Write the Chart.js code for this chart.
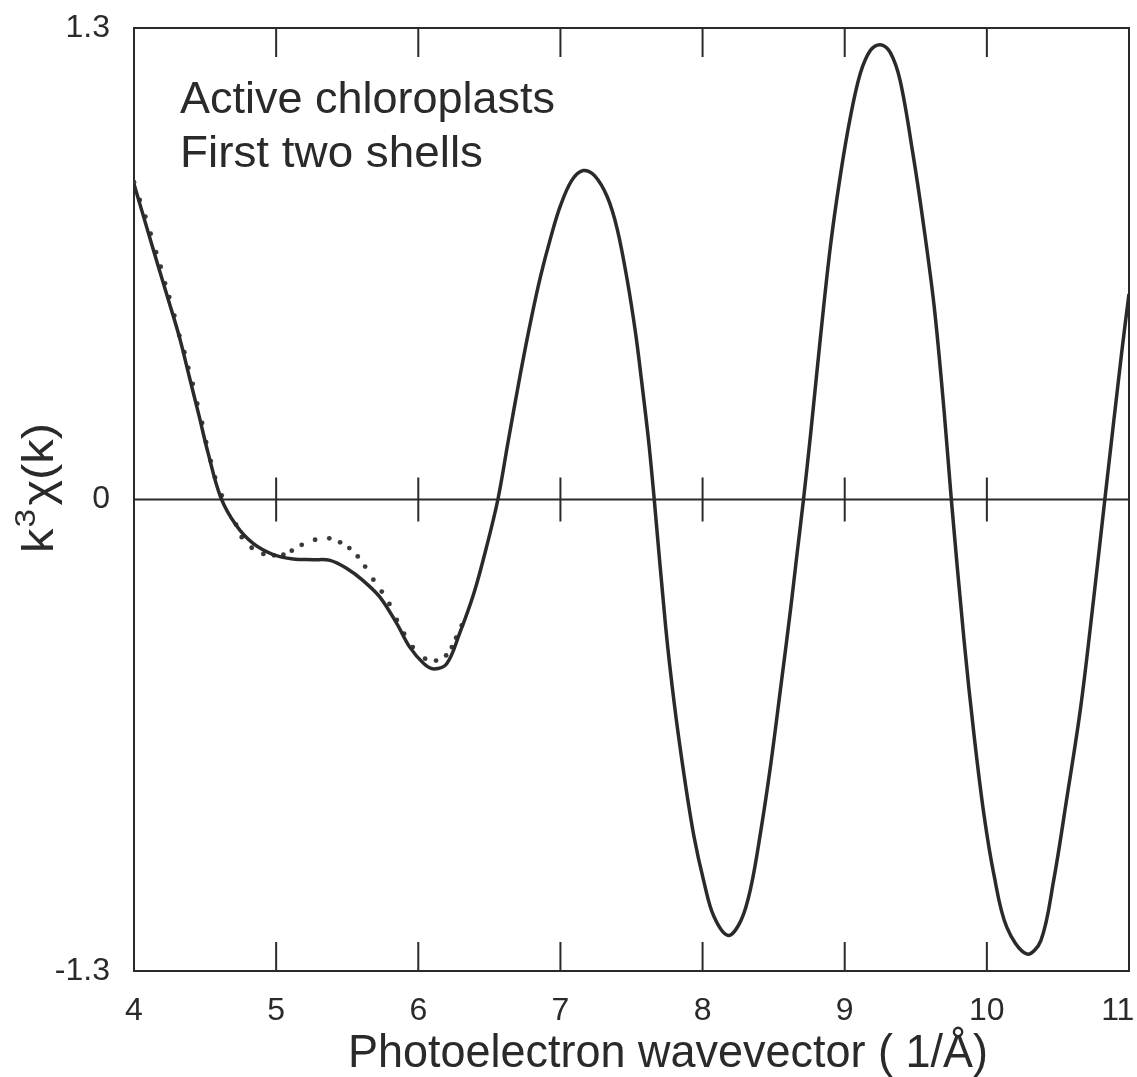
<!DOCTYPE html>
<html>
<head>
<meta charset="utf-8">
<script src="https://cdn.jsdelivr.net/npm/chart.js@4.4.1/dist/chart.umd.min.js"></script>
<style>
  html, body { margin: 0; padding: 0; background: #fff; }
  canvas { display: block; }
</style>
</head>
<body>
<canvas id="exafsChart" width="1137" height="1077"></canvas>
<script>
// k values (1/Å) and k^3 chi(k)
const fitK = [4.0, 4.11, 4.18, 4.25, 4.32, 4.39, 4.46, 4.52, 4.61, 4.72, 4.84, 4.98, 5.12, 5.26, 5.38, 5.50, 5.61, 5.73, 5.85, 5.94, 6.04, 6.11, 6.20, 6.29, 6.39, 6.48, 6.56, 6.63, 6.72, 6.79, 6.86, 6.93, 7.00, 7.08, 7.16, 7.24, 7.33, 7.40, 7.47, 7.53, 7.57, 7.62, 7.66, 7.74, 7.80, 7.87, 7.94, 8.01, 8.08, 8.18, 8.27, 8.34, 8.41, 8.48, 8.55, 8.62, 8.66, 8.71, 8.76, 8.83, 8.90, 8.97, 9.04, 9.11, 9.18, 9.25, 9.32, 9.39, 9.48, 9.55, 9.63, 9.70, 9.75, 9.84, 9.91, 9.98, 10.05, 10.14, 10.28, 10.38, 10.47, 10.56, 10.66, 10.75, 10.83, 10.95, 11.0];
const fitChi = [0.870, 0.723, 0.631, 0.540, 0.447, 0.337, 0.227, 0.130, 0.006, -0.072, -0.122, -0.152, -0.164, -0.166, -0.168, -0.191, -0.223, -0.269, -0.343, -0.407, -0.453, -0.467, -0.453, -0.370, -0.260, -0.131, 0.0, 0.155, 0.350, 0.490, 0.615, 0.720, 0.810, 0.880, 0.907, 0.893, 0.834, 0.745, 0.605, 0.455, 0.330, 0.163, 0.0, -0.350, -0.560, -0.760, -0.930, -1.055, -1.150, -1.202, -1.161, -1.069, -0.913, -0.729, -0.517, -0.300, -0.165, 0.0, 0.180, 0.450, 0.700, 0.895, 1.055, 1.175, 1.238, 1.254, 1.233, 1.155, 0.953, 0.770, 0.530, 0.240, 0.0, -0.390, -0.650, -0.870, -1.035, -1.179, -1.253, -1.216, -1.050, -0.830, -0.573, -0.278, 0.0, 0.410, 0.567];

// dotted series (only up to ~6.3)
const dotK = [4.0, 4.04, 4.08, 4.117, 4.155, 4.188, 4.218, 4.248, 4.284, 4.319, 4.354, 4.382, 4.413, 4.445, 4.479, 4.507, 4.54, 4.57, 4.617, 4.718, 4.758, 4.828, 4.91, 4.985, 5.051, 5.11, 5.18, 5.274, 5.374, 5.45, 5.515, 5.574, 5.626, 5.684, 5.743, 5.797, 5.849, 5.90, 5.961, 6.048, 6.125, 6.196, 6.236, 6.266, 6.306];
const dotChi = [0.875, 0.826, 0.780, 0.733, 0.682, 0.642, 0.596, 0.558, 0.507, 0.452, 0.406, 0.363, 0.319, 0.264, 0.211, 0.158, 0.106, 0.061, 0.011, -0.069, -0.104, -0.133, -0.150, -0.154, -0.152, -0.141, -0.125, -0.111, -0.107, -0.118, -0.134, -0.157, -0.185, -0.221, -0.254, -0.288, -0.332, -0.370, -0.407, -0.439, -0.444, -0.430, -0.407, -0.381, -0.347];

const xTicks = [4, 5, 6, 7, 8, 9, 10, 11];
const yTicks = [-1.3, 0, 1.3];
const innerTicks = [5, 6, 7, 8, 9, 10];

const ink = '#2a2a2a';
const textFont = '"Liberation Sans", Arial, sans-serif';

function fitText(ctx, text, x, y, w, font) {
    ctx.font = font;
    const m = ctx.measureText(text).width;
    ctx.save();
    ctx.translate(x, y);
    ctx.scale(w / m, 1);
    ctx.fillText(text, 0, 0);
    ctx.restore();
}

const framePlugin = {
    id: 'frame',
    beforeDatasetsDraw(chart) {
        const { ctx, chartArea: a, scales: { x, y } } = chart;
        ctx.save();
        ctx.strokeStyle = ink;
        ctx.lineWidth = 2;
        ctx.strokeRect(a.left, a.top, a.right - a.left, a.bottom - a.top);

        // inward ticks on top and bottom
        innerTicks.forEach(k => {
            const px = x.getPixelForValue(k);
            ctx.beginPath();
            ctx.moveTo(px, a.top); ctx.lineTo(px, a.top + 29);
            ctx.moveTo(px, a.bottom); ctx.lineTo(px, a.bottom - 29);
            ctx.stroke();
        });

        // zero line with crossing ticks
        const y0 = y.getPixelForValue(0);
        ctx.beginPath();
        ctx.moveTo(a.left, y0); ctx.lineTo(a.right, y0);
        ctx.stroke();
        innerTicks.forEach(k => {
            const px = x.getPixelForValue(k);
            ctx.beginPath();
            ctx.moveTo(px, y0 - 22); ctx.lineTo(px, y0 + 22);
            ctx.stroke();
        });
        ctx.restore();
    },
    afterDraw(chart) {
        const { ctx } = chart;
        ctx.save();
        ctx.fillStyle = ink;
        ctx.textAlign = 'left';
        ctx.textBaseline = 'alphabetic';

        fitText(ctx, 'Active chloroplasts', 180, 113, 375, '44px ' + textFont);
        fitText(ctx, 'First two shells', 180, 167, 303, '44px ' + textFont);

        fitText(ctx, 'Photoelectron wavevector ( 1/Å)', 348, 1067, 640, '46px ' + textFont);

        // y title: k^3 chi(k), rotated
        ctx.save();
        ctx.translate(53, 553);
        ctx.rotate(-Math.PI / 2);
        const big = '44px ' + textFont, small = '30px ' + textFont;
        ctx.font = big; const wk = ctx.measureText('k').width;
        ctx.font = small; const w3 = ctx.measureText('3').width;
        ctx.font = big; const wr = ctx.measureText('χ(k)').width;
        const s = 130 / (wk + w3 + 4 + wr);
        ctx.scale(s, 1);
        ctx.font = big; ctx.fillText('k', 0, 0);
        ctx.font = small; ctx.fillText('3', wk + 1, -18);
        ctx.font = big; ctx.fillText('χ(k)', wk + w3 + 4, 0);
        ctx.restore();

        ctx.restore();
    }
};

const ctx = document.getElementById('exafsChart').getContext('2d');
new Chart(ctx, {
    type: 'scatter',
    data: {
        datasets: [
            {
                label: 'fit',
                data: fitK.map((k, i) => ({ x: k, y: fitChi[i] })),
                showLine: true,
                borderColor: ink,
                borderWidth: 3.5,
                pointRadius: 0,
                tension: 0.35
            },
            {
                label: 'data',
                data: dotK.map((k, i) => ({ x: k, y: dotChi[i] })),
                showLine: false,
                pointRadius: 2.4,
                pointBackgroundColor: '#3a3a3a',
                pointBorderWidth: 0
            }
        ]
    },
    options: {
        responsive: false,
        devicePixelRatio: 1,
        animation: false,
        layout: { padding: { top: 28, right: 8, left: 0, bottom: 0 } },
        plugins: { legend: { display: false }, tooltip: { enabled: false } },
        scales: {
            x: {
                type: 'linear',
                min: 4,
                max: 11,
                afterBuildTicks: scale => { scale.ticks = xTicks.map(v => ({ value: v })); },
                afterFit: scale => { scale.height = 106; scale.paddingLeft = 0; scale.paddingRight = 0; },
                grid: { display: false },
                border: { display: false },
                ticks: {
                    color: ink,
                    padding: 13,
                    maxRotation: 0,
                    font: { family: textFont, size: 32 },
                    // keep the last label inside the canvas edge
                    callback: v => v === 11 ? '11\u2002\u2009' : String(v)
                }
            },
            y: {
                type: 'linear',
                min: -1.3,
                max: 1.3,
                afterBuildTicks: scale => { scale.ticks = yTicks.map(v => ({ value: v })); },
                afterFit: scale => { scale.width = 134; scale.paddingTop = 0; scale.paddingBottom = 0; },
                grid: { display: false },
                border: { display: false },
                ticks: {
                    color: ink,
                    padding: 16,
                    font: { family: textFont, size: 32 },
                    callback: v => v === 0 ? '0' : v.toFixed(1)
                }
            }
        }
    },
    plugins: [framePlugin]
});
</script>
</body>
</html>
